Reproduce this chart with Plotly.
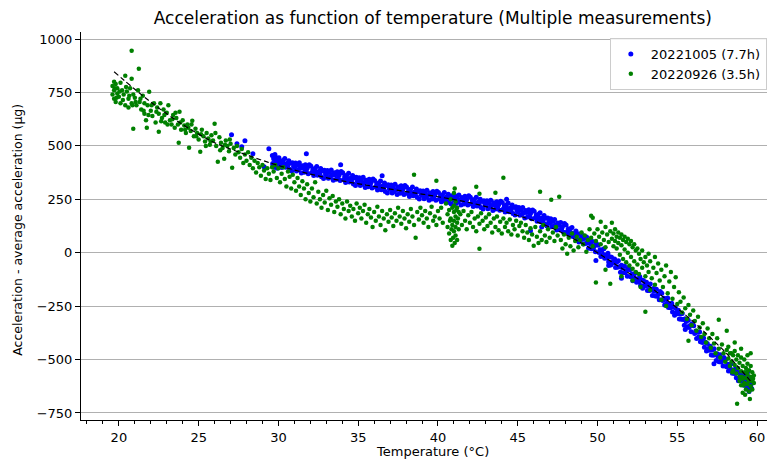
import plotly.graph_objects as go

# ---------------- data ----------------
# Series 1: 20221005 (7.7h) -- blue
blue_temp = [
    29.62, 29.64, 29.66, 29.70, 29.72, 29.74, 29.78, 29.80, 29.83, 29.88, 29.90, 29.93, 29.95, 29.97,
    30.03, 30.09, 30.16, 30.21, 30.28, 30.34, 30.40, 30.45, 30.52, 30.58, 30.65, 30.70, 30.77, 30.83, 30.88, 30.95,
    31.01, 31.07, 31.13, 31.20, 31.25, 31.31, 31.38, 31.44, 31.50, 31.56, 31.62, 31.69, 31.74, 31.80, 31.87, 31.93,
    32.03, 32.09, 32.16, 32.21, 32.28, 32.34, 32.40, 32.45, 32.52, 32.58, 32.65, 32.70, 32.77, 32.83, 32.88, 32.95,
    33.01, 33.07, 33.13, 33.20, 33.25, 33.31, 33.38, 33.44, 33.50, 33.56, 33.62, 33.69, 33.74, 33.80, 33.87, 33.93,
    34.03, 34.09, 34.16, 34.21, 34.28, 34.34, 34.40, 34.45, 34.52, 34.58, 34.65, 34.70, 34.77, 34.83, 34.88, 34.95,
    35.01, 35.07, 35.13, 35.20, 35.25, 35.31, 35.38, 35.44, 35.50, 35.56, 35.62, 35.69, 35.74, 35.80, 35.87, 35.93,
    36.03, 36.09, 36.16, 36.21, 36.28, 36.34, 36.40, 36.45, 36.52, 36.58, 36.65, 36.70, 36.77, 36.83, 36.88, 36.95,
    37.01, 37.07, 37.13, 37.20, 37.25, 37.31, 37.38, 37.44, 37.50, 37.56, 37.62, 37.69, 37.74, 37.80, 37.87, 37.93,
    38.03, 38.09, 38.16, 38.21, 38.28, 38.34, 38.40, 38.45, 38.52, 38.58, 38.65, 38.70, 38.77, 38.83, 38.88, 38.95,
    39.01, 39.07, 39.13, 39.20, 39.25, 39.31, 39.38, 39.44, 39.50, 39.56, 39.62, 39.69, 39.74, 39.80, 39.87, 39.93,
    40.03, 40.09, 40.16, 40.21, 40.28, 40.34, 40.40, 40.45, 40.52, 40.58, 40.65, 40.70, 40.77, 40.83, 40.88, 40.95,
    41.01, 41.07, 41.13, 41.20, 41.25, 41.31, 41.38, 41.44, 41.50, 41.56, 41.62, 41.69, 41.74, 41.80, 41.87, 41.93,
    42.03, 42.09, 42.16, 42.21, 42.28, 42.34, 42.40, 42.45, 42.52, 42.58, 42.65, 42.70, 42.77, 42.83, 42.88, 42.95,
    43.01, 43.07, 43.13, 43.20, 43.25, 43.31, 43.38, 43.44, 43.50, 43.56, 43.62, 43.69, 43.74, 43.80, 43.87, 43.93,
    44.03, 44.09, 44.16, 44.21, 44.28, 44.34, 44.40, 44.45, 44.52, 44.58, 44.65, 44.70, 44.77, 44.83, 44.88, 44.95,
    45.01, 45.07, 45.13, 45.20, 45.25, 45.31, 45.38, 45.44, 45.50, 45.56, 45.62, 45.69, 45.74, 45.80, 45.87, 45.93,
    46.03, 46.09, 46.16, 46.21, 46.28, 46.34, 46.40, 46.45, 46.52, 46.58, 46.65, 46.70, 46.77, 46.83, 46.88, 46.95,
    47.01, 47.07, 47.13, 47.20, 47.25, 47.31, 47.38, 47.44, 47.50, 47.56, 47.62, 47.69, 47.74, 47.80, 47.87, 47.93,
    48.03, 48.09, 48.16, 48.21, 48.28, 48.34, 48.40, 48.45, 48.52, 48.58, 48.65, 48.70, 48.77, 48.83, 48.88, 48.95,
    49.01, 49.07, 49.13, 49.20, 49.25, 49.31, 49.38, 49.44, 49.50, 49.56, 49.62, 49.69, 49.74, 49.80, 49.87, 49.93,
    50.03, 50.09, 50.16, 50.21, 50.28, 50.34, 50.40, 50.45, 50.52, 50.58, 50.65, 50.70, 50.77, 50.83, 50.88, 50.95,
    51.01, 51.07, 51.13, 51.20, 51.25, 51.31, 51.38, 51.44, 51.50, 51.56, 51.62, 51.69, 51.74, 51.80, 51.87, 51.93,
    52.03, 52.09, 52.16, 52.21, 52.28, 52.34, 52.40, 52.45, 52.52, 52.58, 52.65, 52.70, 52.77, 52.83, 52.88, 52.95,
    53.01, 53.07, 53.13, 53.20, 53.25, 53.31, 53.38, 53.44, 53.50, 53.56, 53.62, 53.69, 53.74, 53.80, 53.87, 53.93,
    54.03, 54.09, 54.16, 54.21, 54.28, 54.34, 54.40, 54.45, 54.52, 54.58, 54.65, 54.70, 54.77, 54.83, 54.88, 54.95,
    55.01, 55.07, 55.13, 55.20, 55.25, 55.31, 55.38, 55.44, 55.50, 55.56, 55.62, 55.69, 55.74, 55.80, 55.87, 55.93,
    56.03, 56.09, 56.16, 56.21, 56.28, 56.34, 56.40, 56.45, 56.52, 56.58, 56.65, 56.70, 56.77, 56.83, 56.88, 56.95,
    57.01, 57.07, 57.13, 57.20, 57.25, 57.31, 57.38, 57.44, 57.50, 57.56, 57.62, 57.69, 57.74, 57.80, 57.87, 57.93,
    58.03, 58.09, 58.16, 58.21, 58.28, 58.34, 58.40, 58.45, 58.52, 58.58, 58.65, 58.70, 58.77, 58.83, 58.88, 58.95,
    59.03, 59.08, 59.13, 59.18, 59.22, 59.27, 59.31, 59.36, 59.40, 59.44, 59.48, 59.52, 59.56, 59.60, 59.63, 59.66,
    27.06, 27.40, 27.90, 27.70, 28.40, 29.40, 29.10, 31.75, 33.90, 36.50, 44.30, 45.80, 46.50, 49.90, 50.70, 51.50,
    55.50, 57.30, 59.50, 59.40,
]
blue_acc = [
    455, 418, 410, 440, 450, 400, 460, 405, 425, 445, 438, 395, 412, 430,
    445, 414, 428, 399, 432, 415, 441, 400, 417, 406, 430, 391, 419, 383, 421, 403,
    399, 420, 383, 409, 388, 421, 396, 373, 407, 398, 377, 412, 382, 395, 370, 412,
    406, 375, 390, 361, 394, 377, 404, 363, 380, 369, 394, 355, 383, 347, 386, 368,
    364, 385, 348, 375, 354, 387, 362, 339, 374, 365, 344, 379, 349, 363, 338, 380,
    374, 343, 358, 329, 362, 345, 372, 331, 348, 336, 361, 322, 350, 314, 353, 335,
    330, 351, 314, 341, 320, 353, 328, 305, 339, 330, 309, 344, 314, 328, 303, 345,
    338, 307, 322, 293, 326, 309, 336, 295, 312, 301, 326, 287, 315, 279, 318, 300,
    296, 317, 280, 307, 287, 320, 295, 272, 307, 298, 278, 313, 283, 297, 272, 314,
    308, 277, 292, 263, 297, 280, 307, 266, 283, 272, 298, 259, 287, 251, 290, 272,
    268, 289, 252, 280, 259, 292, 268, 245, 280, 271, 251, 286, 256, 270, 246, 288,
    282, 251, 267, 238, 271, 255, 282, 242, 259, 248, 274, 235, 263, 228, 267, 250,
    246, 267, 230, 258, 237, 270, 245, 223, 258, 249, 228, 264, 234, 248, 223, 266,
    260, 229, 244, 216, 249, 232, 259, 219, 236, 225, 250, 212, 240, 204, 243, 226,
    222, 243, 206, 234, 213, 246, 221, 198, 234, 225, 204, 239, 209, 224, 199, 241,
    235, 204, 219, 190, 223, 206, 233, 192, 209, 198, 223, 184, 212, 176, 215, 197,
    192, 212, 175, 201, 180, 212, 187, 163, 198, 188, 167, 201, 171, 184, 159, 200,
    194, 162, 176, 147, 179, 161, 187, 145, 162, 150, 174, 134, 161, 125, 163, 144,
    139, 159, 121, 146, 124, 156, 130, 106, 139, 129, 107, 141, 110, 122, 96, 137,
    130, 97, 111, 80, 112, 93, 118, 76, 91, 79, 102, 61, 88, 50, 88, 68,
    62, 81, 41, 66, 43, 73, 46, 21, 54, 42, 19, 52, 19, 31, 4, 43,
    35, 1, 14, -18, 13, -7, 18, -26, -12, -25, -3, -44, -19, -57, -21, -42,
    -48, -30, -69, -45, -68, -38, -66, -91, -59, -70, -94, -62, -94, -83, -110, -71,
    -80, -113, -100, -131, -100, -120, -95, -138, -123, -136, -113, -154, -128, -166, -130, -150,
    -156, -138, -177, -153, -177, -147, -174, -200, -168, -180, -203, -171, -204, -193, -220, -181,
    -190, -224, -213, -245, -216, -236, -212, -257, -243, -258, -236, -278, -254, -293, -258, -279,
    -286, -269, -310, -287, -312, -284, -313, -340, -309, -322, -347, -316, -350, -341, -370, -332,
    -342, -378, -367, -401, -372, -394, -371, -417, -404, -420, -399, -443, -419, -460, -425, -448,
    -456, -438, -479, -455, -480, -450, -478, -505, -473, -486, -510, -478, -512, -501, -530, -491,
    -500, -534, -522, -554, -524, -544, -520, -564, -550, -565, -543, -585, -560, -599, -563, -584,
    -570, -600, -585, -620, -575, -610, -595, -630, -600, -580, -625, -640, -605, -620, -590, -635,
    552, 510, 524, 496, 463, 487, 402, 463, 412, 360, 250, 103, 120, -37, -60, -120,
    -360, -520, -650, -560,
]

# Series 2: 20220926 (3.5h) -- green
green_temp = [
    19.6, 19.6, 19.7, 19.7, 19.7, 19.8, 19.8, 19.9, 19.9, 20.0,
    20.1, 20.1, 20.2, 20.3, 20.4, 20.4, 20.5, 20.6, 20.6, 20.7,
    20.8, 20.8, 20.8, 20.9, 20.9, 21.0, 21.1, 21.2, 21.25, 21.3,
    21.4, 21.5, 21.6, 21.6, 21.7, 21.75, 21.8, 21.9, 22.0, 22.1,
    22.2, 22.3, 22.4, 22.5, 22.5, 22.6, 22.7, 22.8, 22.9, 23.0,
    23.1, 23.2, 23.3, 23.4, 23.5, 23.6, 23.7, 23.75, 23.8, 23.9,
    24.0, 24.1, 24.2, 24.3, 24.4, 24.5, 24.6, 24.7, 24.8, 24.9,
    25.0, 25.1, 25.2, 25.3, 25.4, 25.5, 25.6, 25.7, 25.8, 25.9,
    26.0, 26.1, 26.2, 26.3, 26.4, 26.5, 26.6, 26.7, 26.8, 26.9,
    27.0, 27.1, 27.2, 27.3, 27.4, 27.5, 27.6, 27.7, 27.8, 27.9,
    28.0, 28.1, 28.2, 28.3, 28.4, 28.5, 28.6, 28.7, 28.8, 28.9,
    29.0, 29.1, 29.2, 29.3, 29.4, 29.5, 29.6,
    19.75, 19.85, 20.05, 20.25, 20.45, 20.65, 20.85, 21.05, 21.35, 21.55,
    21.85, 22.05, 22.35, 22.65, 22.85, 23.05, 23.35, 23.55, 23.85, 24.15,
    24.35, 24.55, 24.85, 25.15, 25.45, 25.75, 26.05, 26.35, 26.65, 26.95,
    29.7, 29.8, 29.9, 30.0, 30.1, 30.2, 30.3, 30.4, 30.5, 30.6,
    30.7, 30.8, 30.9, 31.0, 31.1, 31.2, 31.3, 31.4, 31.5, 31.6,
    31.7, 31.8, 31.9, 32.0, 32.1, 32.2, 32.3, 32.4, 32.5, 32.6,
    32.7, 32.8, 32.9, 33.0, 33.1, 33.2, 33.3, 33.4, 33.5, 33.6,
    33.7, 33.8, 33.9, 34.0, 34.1, 34.2, 34.3, 34.4, 34.5, 34.6,
    34.7, 34.8, 34.9, 35.0, 35.1, 35.2, 35.3, 35.4, 35.5, 35.6,
    35.7, 35.8, 35.9, 36.0, 36.1, 36.2, 36.3, 36.4, 36.5, 36.6,
    36.7, 36.8, 36.9, 37.0, 37.1, 37.2, 37.3, 37.4, 37.5, 37.6,
    37.7, 37.8, 37.9, 38.0, 38.1, 38.2, 38.3, 38.4, 38.5, 38.5,
    38.6, 38.7, 38.8, 38.9, 39.0, 39.1, 39.2, 39.3, 39.4, 39.5,
    39.6, 39.7, 39.8, 39.9, 39.9, 40.0, 40.1, 40.2, 40.3,
    40.5, 40.6, 40.6, 40.7, 40.7, 40.8, 40.8, 40.8, 40.9, 40.9,
    40.9, 41.0, 41.0, 41.0, 41.0, 41.1, 41.1, 41.1, 41.1, 41.2,
    41.2, 41.2, 41.3, 41.3, 41.0, 40.95, 41.05, 41.15, 40.85, 41.25, 41.05, 40.75,
    41.4, 41.5, 41.6, 41.7, 41.8, 41.9, 42.0, 42.1, 42.2, 42.3,
    42.4, 42.4, 42.5, 42.6, 42.6, 42.6, 42.7, 42.8, 42.9, 43.0,
    43.1, 43.2, 43.3, 43.4, 43.5, 43.6, 43.6, 43.7, 43.8, 43.9,
    44.0, 44.1, 44.1, 44.2, 44.3, 44.4, 44.5, 44.6, 44.7, 44.8,
    44.9, 45.0, 45.1, 45.2, 45.3, 45.4, 45.5, 45.6, 45.7, 45.8,
    45.9, 46.0, 46.1, 46.2, 46.3, 46.4, 46.4, 46.5, 46.6, 46.7,
    46.8, 46.9, 47.0, 47.1, 47.2, 47.3, 47.4, 47.5, 47.6,
    47.7, 47.8, 47.9, 48.0, 48.1, 48.2, 48.3, 48.4, 48.5, 48.6,
    48.7, 48.8, 48.9, 49.0, 49.1, 49.2, 49.3, 49.4, 49.5, 49.6,
    49.6, 49.7, 49.7, 49.8, 49.9, 49.9, 50.0, 50.1, 50.2, 50.2,
    50.3, 50.4, 50.5, 50.5, 50.6, 50.7, 50.8, 50.8, 50.9, 50.9,
    51.0, 51.0, 51.1, 51.1, 51.2, 51.2, 51.3, 51.3, 51.4, 51.4,
    51.5, 51.5, 51.6, 51.6, 51.7, 51.7, 51.8, 51.8, 51.9, 51.9,
    52.0, 52.0, 52.1, 52.1, 52.2, 52.2, 52.3, 52.3, 52.4, 52.4,
    52.5, 52.5, 52.6, 52.6, 52.7, 52.8, 52.8, 52.9, 53.0, 53.0,
    53.0, 53.1, 53.2, 53.2, 53.3, 53.4, 53.5, 53.6, 53.6, 53.7,
    53.8, 53.9, 54.0, 54.1, 54.2, 54.3, 54.4, 54.5, 54.6, 54.7,
    54.8, 54.9, 55.0, 55.1, 52.2, 52.7, 53.3, 54.0, 54.3, 51.5, 50.5,
    55.2, 55.3, 55.4, 55.5, 55.6, 55.7, 55.7, 55.8, 55.9, 56.0,
    56.1, 56.2, 56.3, 56.4, 56.5, 56.6, 56.7, 56.8, 56.9, 57.0,
    57.1, 57.2, 57.3, 57.4, 57.5, 57.6, 57.6, 57.7, 57.8, 57.9,
    58.0, 58.1, 58.1, 58.2, 58.3, 58.3, 58.4, 58.5, 58.5, 58.6,
    58.6, 58.7, 58.7, 58.75, 58.8, 58.8, 58.9, 58.9, 59.0, 59.0,
    59.0, 59.1, 59.1, 59.1, 59.2, 59.2, 59.2, 59.3, 59.3, 59.3,
    59.4, 59.4, 59.4, 59.5, 59.5, 59.5, 59.6, 59.6, 59.6, 59.7,
    59.7, 59.7, 59.8, 59.8, 59.4, 59.6, 59.0, 58.6, 59.25, 59.55,
    58.2, 58.4, 58.9, 59.15, 59.35, 59.45, 59.65, 59.75, 59.05, 58.45,
]
green_acc = [
    780, 740, 800, 760, 720, 790, 705, 770, 745, 730,
    795, 700, 760, 740, 828, 690, 755, 720, 680, 770,
    945, 814, 700, 740, 580, 725, 690, 760, 861, 705,
    670, 735, 650, 700, 620, 585, 690, 753, 665, 640,
    700, 610, 680, 566, 650, 700, 630, 670, 610, 655,
    690, 620, 600, 645, 585, 630, 600, 515, 660, 575,
    620, 595, 560, 600, 491, 570, 618, 545, 580, 560,
    530, 473, 575, 545, 520, 560, 535, 505, 550, 525,
    604, 500, 426, 540, 515, 490, 440, 525, 500, 475,
    510, 398, 490, 460, 500, 470, 445, 485, 420, 460,
    430, 470, 410, 445, 395, 430, 375, 420, 400, 360,
    410, 385, 345, 395, 370, 340, 400,
    770, 725, 755, 715, 775, 735, 690, 705, 720, 665,
    645, 690, 660, 615, 645, 600, 625, 655, 610, 575,
    585, 600, 545, 555, 500, 520, 560, 480, 505, 530,
    380, 410, 350, 395, 330, 370, 400, 345, 310, 380,
    355, 300, 365, 330, 290, 350, 310, 270, 335, 300,
    250, 320, 280, 240, 300, 260, 330, 230, 285, 250,
    210, 270, 235, 290, 200, 255, 225, 265, 190, 240,
    215, 250, 180, 230, 205, 160, 240, 195, 220, 170,
    205, 150, 230, 185, 210, 160, 195, 225, 140, 180,
    205, 165, 120, 190, 150, 215, 170, 130, 195, 160,
    105, 180, 145, 200, 165, 125, 185, 150, 210, 170,
    135, 195, 160, 115, 180, 145, 205, 170, 365, 130,
    70, 190, 155, 210, 175, 140, 195, 160, 120, 185,
    215, 150, 170, 337, 130, 195, 160, 210, 140,
    230, 180, 120, 200, 90, 250, 160, 60, 210, 130,
    33, 280, 190, 100, 150, 240, 170, 80, 120, 210,
    140, 60, 190, 110, 220, 70, 300, 200, 110, 160, 45, 150,
    180, 130, 195, 150, 110, 175, 140, 190, 120, 160,
    309, 100, 170, 276, 19, 135, 185, 150, 110, 165,
    125, 180, 140, 95, 160, 281, 120, 170, 105, 145,
    90, 351, 160, 120, 140, 100, 155, 85, 130, 110,
    150, 80, 125, 140, 100, 70, 130, 95, 60, 115,
    85, 33, 120, 75, 45, 285, 100, 60, 130, 80,
    50, 110, 70, 248, 95, 55, 120, 80, 262,
    60, 20, 85, 40, -5, 70, 30, 90, 10, 55,
    75, 25, 60, 95, 40, 80, 5, 60, 110, 173,
    70, 164, 30, 90, -140, 55, 110, 75, 145, 40,
    95, 60, 120, 25, 85, 50, -145, 100, 140, 65,
    30, 90, 110, 55, 75, 20, 95, 45, 70, -10,
    85, 35, 60, -30, 75, 15, 50, -45, 65, 0,
    40, -60, 55, -20, 25, -75, 40, -40, 10, -90,
    20, -55, -5, -100, -30, 10, -70, -45, -276, -20,
    -110, -60, -5, -90, -40, -120, -70, -20, -150, -95,
    -50, -130, -80, -160, -110, -60, -190, -135, -90, -215,
    -160, -115, -240, -185, -130, -160, -175, -220, -250, -110, -80,
    -230, -280, -210, -260, -310, -412, -245, -290, -340, -270,
    -320, -365, -300, -350, -395, -330, -380, -420, -355, -400,
    -445, -380, -425, -470, -400, -314, -450, -490, -430, -470,
    -510, -365, -455, -495, -530, -470, -510, -550, -480, -525,
    -460, -565, -500, -707, -540, -480, -580, -515, -555, -490,
    -620, -530, -590, -655, -500, -560, -610, -540, -585, -640,
    -520, -570, -615, -550, -600, -650, -530, -580, -625, -560,
    -600, -640, -575, -610, -480, -470, -450, -420, -665, -685,
    -440, -470, -600, -620, -560, -595, -600, -590, -580, -560,
]

# Fitted trend (dashed black line)
fit_temp = [19.7, 21, 22, 23, 24, 25, 26, 27, 28, 29, 30, 32, 34, 36, 38, 40, 42, 43, 44, 45,
            46, 47, 48, 49, 50, 51, 52, 53, 54, 55, 56, 57, 58, 59, 59.7]
fit_acc = [847, 765, 705, 650, 600, 555, 515, 485, 458, 432, 408, 368, 336, 310, 286, 262, 234, 216, 196, 174,
           150, 120, 85, 45, 0, -48, -97, -145, -200, -260, -322, -392, -465, -550, -610]

x_ticks = [20, 25, 30, 35, 40, 45, 50, 55, 60]
y_ticks = [-750, -500, -250, 0, 250, 500, 750, 1000]

FONT = "DejaVu Sans"

fig = go.Figure()
fig.add_trace(go.Scatter(
    x=blue_temp, y=blue_acc, mode="markers", name="20221005 (7.7h)",
    marker=dict(color="#0000ff", size=5, line=dict(width=0)),
))
fig.add_trace(go.Scatter(
    x=green_temp, y=green_acc, mode="markers", name="20220926 (3.5h)",
    marker=dict(color="#008000", size=4.5, line=dict(width=0)),
))
fig.add_trace(go.Scatter(
    x=fit_temp, y=fit_acc, mode="lines", showlegend=False,
    line=dict(color="black", width=1.2, dash="5px,3px", shape="spline"),
))

# page body has an 8px default margin, so the figure is sized/offset to compensate
fig.update_layout(
    width=767, height=453,
    margin=dict(l=73, r=0, t=24, b=41, autoexpand=False),
    paper_bgcolor="white", plot_bgcolor="white",
    font=dict(family=FONT, size=13, color="black"),
    title=dict(text="Acceleration as function of temperature (Multiple measurements)",
               x=0.507, xref="paper", xanchor="center",
               y=0.978, yref="container", yanchor="middle",
               font=dict(family=FONT, size=17, color="black")),
    legend=dict(x=0.762, y=0.9845, xanchor="left", yanchor="top",
                bgcolor="rgba(255,255,255,0.85)", bordercolor="#cccccc", borderwidth=1,
                font=dict(family=FONT, size=13, color="black"), itemwidth=30,
                tracegroupgap=2),
    showlegend=True,
)
fig.update_xaxes(
    range=[17.625, 61.125], tickvals=x_ticks, ticks="outside", ticklen=5, tickwidth=1,
    tickcolor="black", showline=True, linecolor="black", linewidth=1, mirror=False,
    showgrid=False, zeroline=False, automargin=False,
    tickfont=dict(family=FONT, size=13, color="black"),
    minor=dict(ticks="outside", dtick=1, tick0=20, ticklen=3, tickcolor="black", showgrid=False),
)
fig.update_yaxes(
    range=[-783, 1033], tickvals=y_ticks, ticks="outside", ticklen=5, tickwidth=1,
    tickcolor="black", showline=True, linecolor="black", linewidth=1,
    showgrid=True, gridcolor="#b0b0b0", gridwidth=1, zeroline=False, automargin=False,
    tickfont=dict(family=FONT, size=13, color="black"),
)
fig.add_annotation(text="Acceleration - average acceleration (µg)", textangle=-90,
                   xref="paper", yref="paper", x=-0.091, y=0.49, showarrow=False,
                   xanchor="center", yanchor="middle",
                   font=dict(family=FONT, size=12.5, color="black"))
fig.add_annotation(text="Temperature (°C)", xref="paper", yref="paper",
                   x=0.507, y=-0.082, showarrow=False, xanchor="center", yanchor="middle",
                   font=dict(family=FONT, size=13, color="black"))

fig.write_html("out.html")
